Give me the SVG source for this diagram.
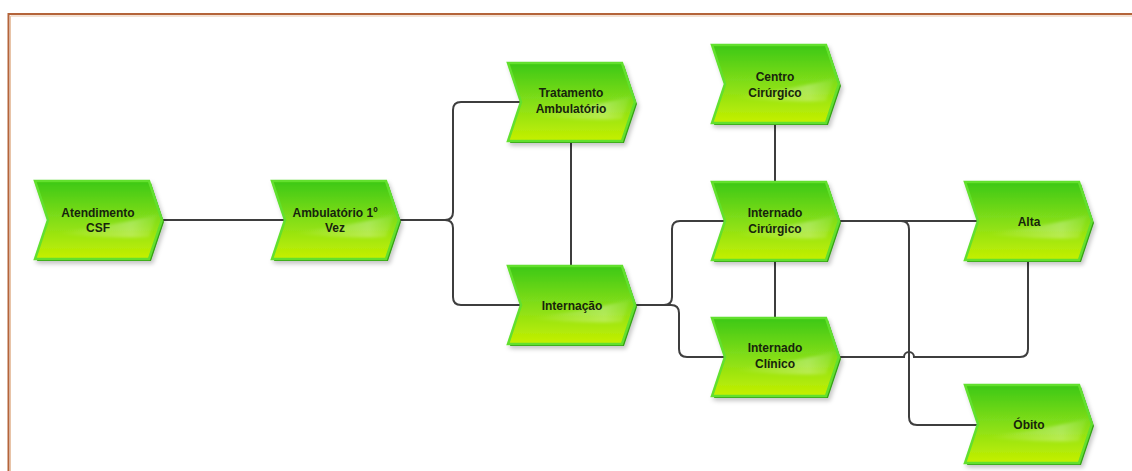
<svg xmlns="http://www.w3.org/2000/svg" width="1132" height="471" viewBox="0 0 1132 471">
<defs>
<linearGradient id="fillG" x1="0" y1="0" x2="0" y2="1">
<stop offset="0" stop-color="#3cc812"/>
<stop offset="0.45" stop-color="#7ddc1a"/>
<stop offset="1" stop-color="#c6f000"/>
</linearGradient>
<linearGradient id="gloss" x1="0" y1="0" x2="1" y2="0">
<stop offset="0" stop-color="#ffffff" stop-opacity="0"/>
<stop offset="0.75" stop-color="#ffffff" stop-opacity="0.28"/>
<stop offset="1" stop-color="#ffffff" stop-opacity="0.05"/>
</linearGradient>
<filter id="sh" x="-10%" y="-10%" width="125%" height="130%">
<feDropShadow dx="2" dy="3" stdDeviation="2" flood-color="#000" flood-opacity="0.22"/>
</filter>
<filter id="soft" x="-10%" y="-50%" width="120%" height="200%">
<feGaussianBlur stdDeviation="1.5"/>
</filter>
<polygon id="chev" points="0,0 114,0 127,39 114,78 0,78 13,39"/>
</defs>
<style>
.base{fill:#34a014;}
.body{fill:url(#fillG);stroke:#62e02e;stroke-width:2.5;stroke-linejoin:miter;}
.gl{fill:url(#gloss);filter:url(#soft);}
.lbl{font-family:"Liberation Sans",Arial,sans-serif;font-weight:bold;font-size:12px;fill:#17240c;text-anchor:middle;}
.con{fill:none;stroke:#3e3e3e;stroke-width:2;}
</style>
<rect width="1132" height="471" fill="#ffffff"/>
<path d="M8.5,471 V14 H1132" fill="none" stroke="#b4643a" stroke-width="2"/>
<path d="M10.5,471 V16 H1132" fill="none" stroke="#e8c4a8" stroke-width="1"/>

<g id="connectors">
<path class="con" d="M162,220 H285"/>
<path class="con" d="M399,220 H445 Q453,220 453,212 V110 Q453,102 461,102 H521"/>
<path class="con" d="M445,220 Q453,220 453,228 V297 Q453,305 461,305 H521"/>
<path class="con" d="M571,141 V266"/>
<path class="con" d="M775,123 V182"/>
<path class="con" d="M775,260 V318"/>
<path class="con" d="M635,305 H664 Q672,305 672,297 V229 Q672,221 680,221 H725"/>
<path class="con" d="M664,305 H671 Q679,305 679,313 V349 Q679,357 687,357 H725"/>
<path class="con" d="M839,221 H978"/>
<path class="con" d="M901,221 Q909,221 909,229 V417 Q909,425 917,425 H978"/>
<path class="con" d="M839,357 H904 A5,5 0 0 1 914,357 H1020 Q1028,357 1028,349 V260"/>
</g>

<g id="n-atendimento" transform="translate(35,181)">
<g filter="url(#sh)"><use href="#chev" class="base" x="2" y="2"/><use href="#chev" class="body"/></g>
<path class="gl" d="M20,52 Q70,46 122,34 L114,56 Q70,58 20,52 Z"/>
<text class="lbl" x="63" y="36">Atendimento</text>
<text class="lbl" x="63" y="51">CSF</text>
</g>

<g id="n-ambulatorio" transform="translate(272,181)">
<g filter="url(#sh)"><use href="#chev" class="base" x="2" y="2"/><use href="#chev" class="body"/></g>
<path class="gl" d="M20,52 Q70,46 122,34 L114,56 Q70,58 20,52 Z"/>
<text class="lbl" x="63" y="36">Ambulatório 1º</text>
<text class="lbl" x="63" y="51">Vez</text>
</g>

<g id="n-tratamento" transform="translate(508,63)">
<g filter="url(#sh)"><use href="#chev" class="base" x="2" y="2"/><use href="#chev" class="body"/></g>
<path class="gl" d="M20,52 Q70,46 122,34 L114,56 Q70,58 20,52 Z"/>
<text class="lbl" x="63" y="34">Tratamento</text>
<text class="lbl" x="63" y="50">Ambulatório</text>
</g>

<g id="n-internacao" transform="translate(508,266)">
<g filter="url(#sh)"><use href="#chev" class="base" x="2" y="2"/><use href="#chev" class="body"/></g>
<path class="gl" d="M20,52 Q70,46 122,34 L114,56 Q70,58 20,52 Z"/>
<text class="lbl" x="64" y="44">Internação</text>
</g>

<g id="n-centro" transform="translate(712,45)">
<g filter="url(#sh)"><use href="#chev" class="base" x="2" y="2"/><use href="#chev" class="body"/></g>
<path class="gl" d="M20,52 Q70,46 122,34 L114,56 Q70,58 20,52 Z"/>
<text class="lbl" x="63" y="36">Centro</text>
<text class="lbl" x="63" y="52">Cirúrgico</text>
</g>

<g id="n-int-cirurgico" transform="translate(712,182)">
<g filter="url(#sh)"><use href="#chev" class="base" x="2" y="2"/><use href="#chev" class="body"/></g>
<path class="gl" d="M20,52 Q70,46 122,34 L114,56 Q70,58 20,52 Z"/>
<text class="lbl" x="63" y="35">Internado</text>
<text class="lbl" x="63" y="51">Cirúrgico</text>
</g>

<g id="n-int-clinico" transform="translate(712,318)">
<g filter="url(#sh)"><use href="#chev" class="base" x="2" y="2"/><use href="#chev" class="body"/></g>
<path class="gl" d="M20,52 Q70,46 122,34 L114,56 Q70,58 20,52 Z"/>
<text class="lbl" x="63" y="34">Internado</text>
<text class="lbl" x="63" y="50">Clínico</text>
</g>

<g id="n-alta" transform="translate(965,182)">
<g filter="url(#sh)"><use href="#chev" class="base" x="2" y="2"/><use href="#chev" class="body"/></g>
<path class="gl" d="M20,52 Q70,46 122,34 L114,56 Q70,58 20,52 Z"/>
<text class="lbl" x="64" y="44">Alta</text>
</g>

<g id="n-obito" transform="translate(965,385)">
<g filter="url(#sh)"><use href="#chev" class="base" x="2" y="2"/><use href="#chev" class="body"/></g>
<path class="gl" d="M20,52 Q70,46 122,34 L114,56 Q70,58 20,52 Z"/>
<text class="lbl" x="64" y="44">Óbito</text>
</g>
</svg>
